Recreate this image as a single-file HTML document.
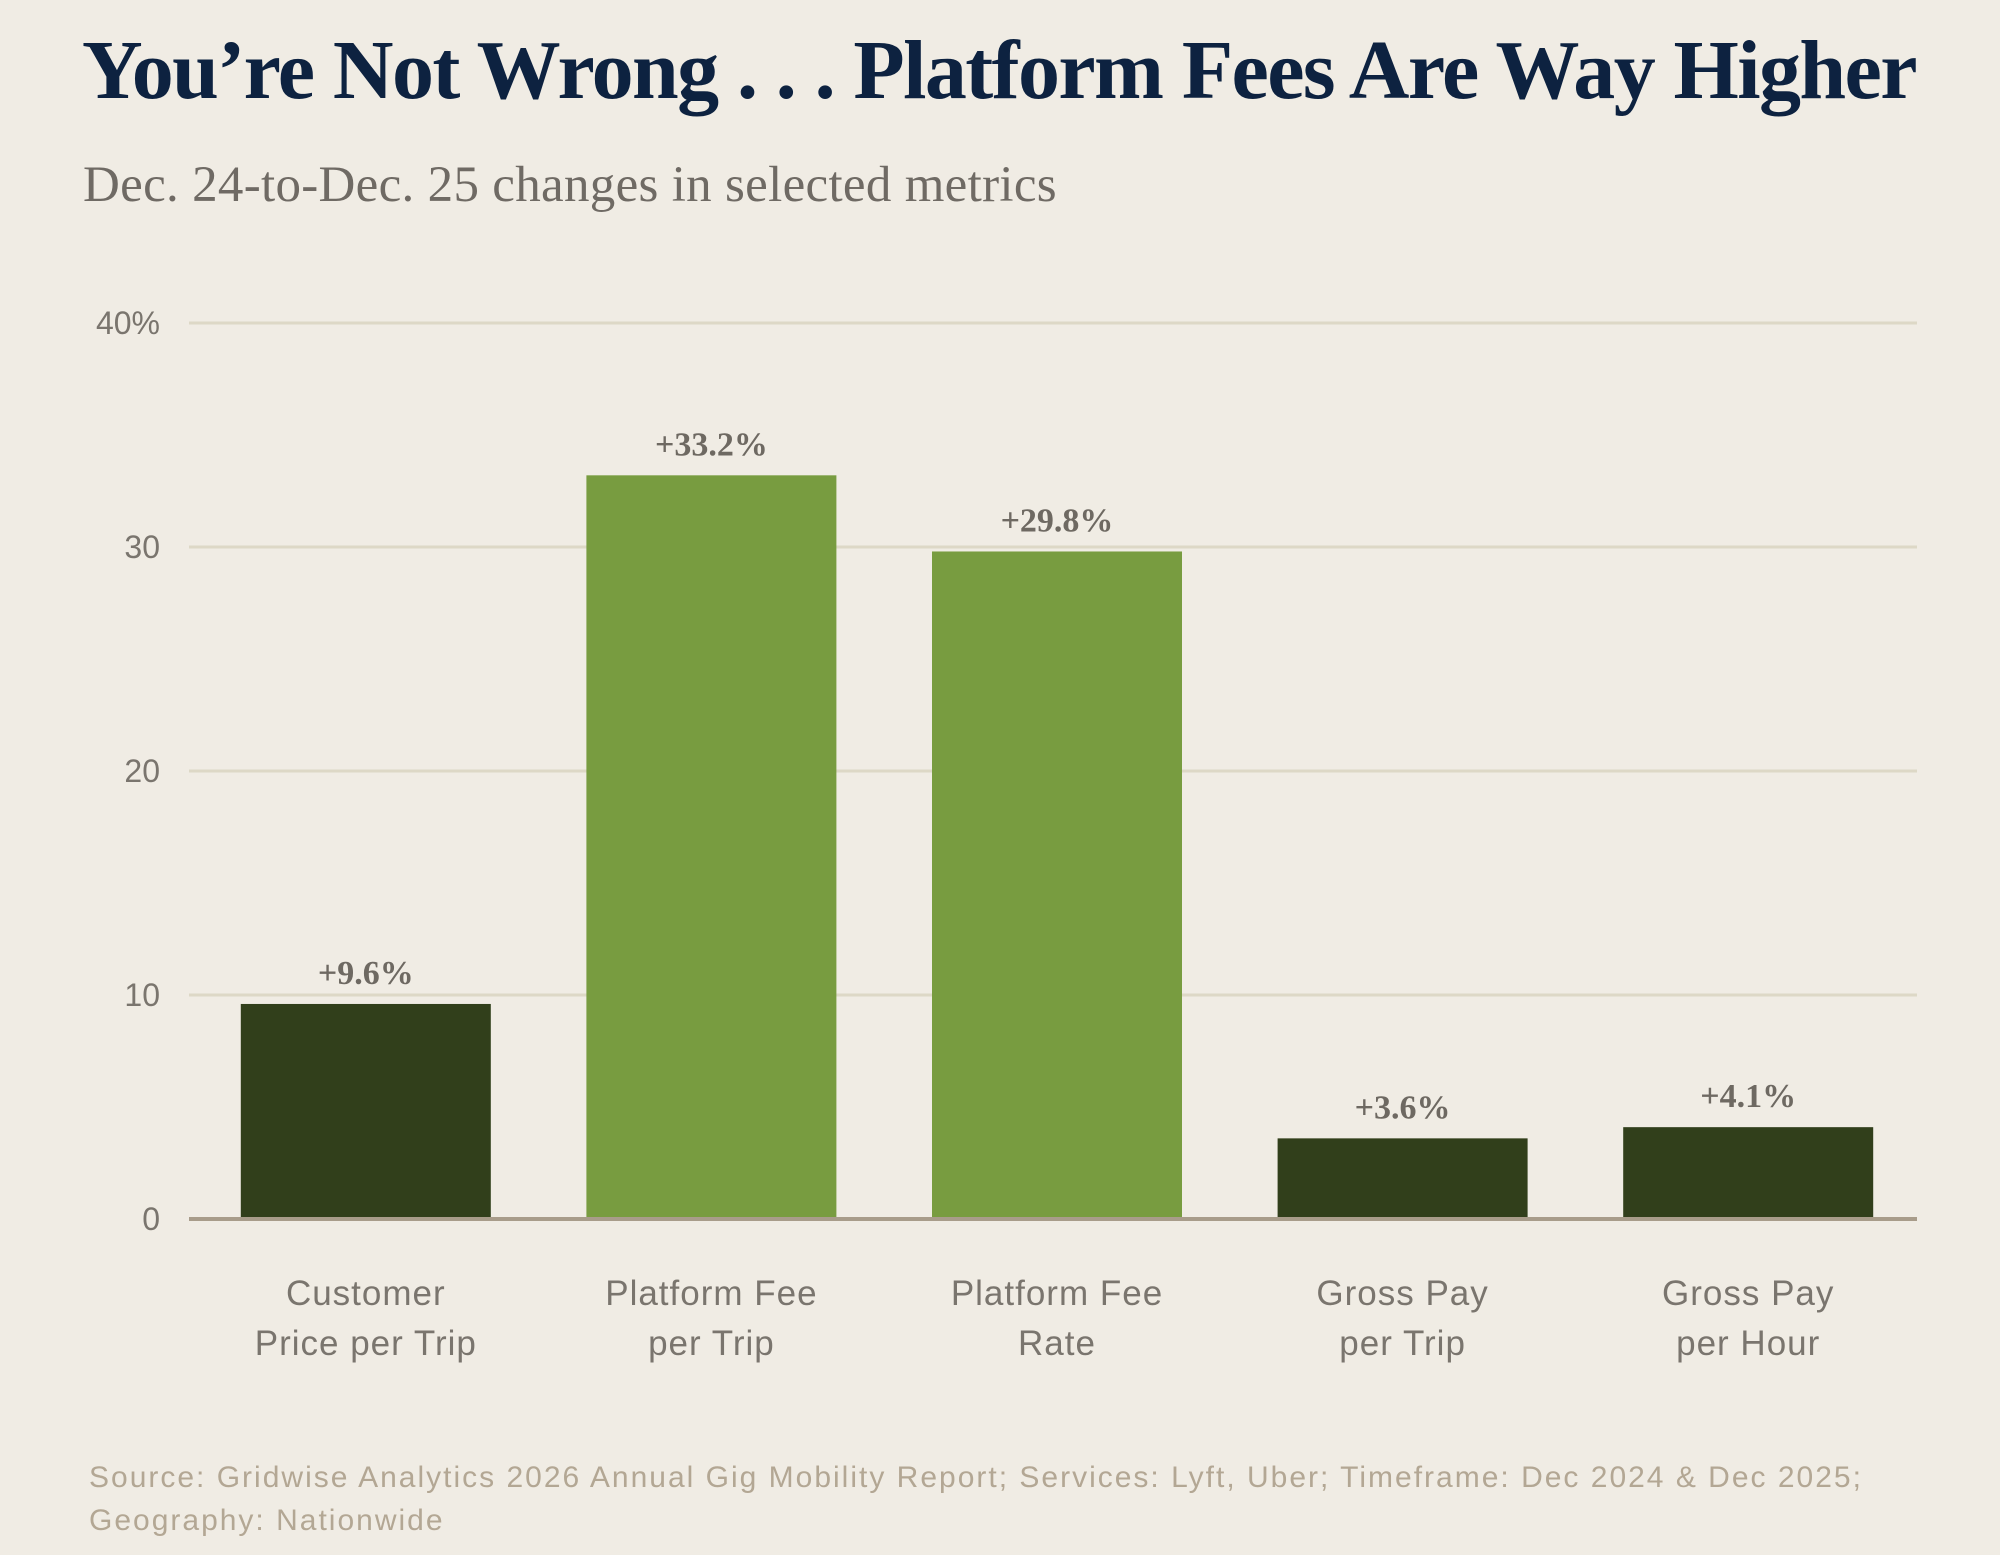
<!DOCTYPE html>
<html><head><meta charset="utf-8">
<style>
html,body{margin:0;padding:0;background:#f0ece4;}
body{width:2000px;height:1555px;position:relative;overflow:hidden;font-family:"Liberation Sans",sans-serif;}
#title{position:absolute;left:82px;top:22px;font-family:"Liberation Serif",serif;font-weight:bold;font-size:84px;color:#0d2240;letter-spacing:-1.6px;white-space:nowrap;}
#subtitle{position:absolute;left:83px;top:156px;font-family:"Liberation Serif",serif;font-size:51px;color:#6f6a64;letter-spacing:0.3px;white-space:nowrap;}
#source{position:absolute;left:89px;top:1456px;font-size:30px;line-height:43px;color:#b3a794;letter-spacing:2px;white-space:nowrap;}
svg{position:absolute;left:0;top:0;}
</style></head><body>
<div id="title">You’re Not Wrong . . . Platform Fees Are Way Higher</div>
<div id="subtitle">Dec. 24-to-Dec. 25 changes in selected metrics</div>
<svg id="chart" width="2000" height="1555"></svg>
<div id="source">Source: Gridwise Analytics 2026 Annual Gig Mobility Report; Services: Lyft, Uber; Timeframe: Dec 2024 &amp; Dec 2025;<br>Geography: Nationwide</div>
<script>
const categories=[["Customer","Price per Trip"],["Platform Fee","per Trip"],["Platform Fee","Rate"],["Gross Pay","per Trip"],["Gross Pay","per Hour"]];
const values=[9.6,33.2,29.8,3.6,4.1];
const valueLabels=["+9.6%","+33.2%","+29.8%","+3.6%","+4.1%"];
const highlight=[false,true,true,false,false];
const ticks=[0,10,20,30,40];
const tickLabels=["0","10","20","30","40%"];

const NS="http://www.w3.org/2000/svg";
const svg=document.getElementById('chart');
const x0=189,x1=1917,yTop=323,yBot=1219,yMax=40;
const y=v=>yBot-(v/yMax)*(yBot-yTop);
const band=(x1-x0)/categories.length, bw=250;
const xc=i=>x0+4+band*(i+0.5);
function mk(tag,attrs,txt){const e=document.createElementNS(NS,tag);for(const k in attrs)e.setAttribute(k,attrs[k]);if(txt!==undefined)e.textContent=txt;svg.appendChild(e);return e;}
ticks.forEach((t,i)=>{
  if(t>0){const g=mk('line',{x1:x0,x2:x1,y1:y(t),y2:y(t),stroke:'#ddd8c6','stroke-width':3});
  
  }
  const l=mk('text',{x:160,y:y(t)+11,'text-anchor':'end','font-size':32,fill:'#7a756e','font-family':'Liberation Sans, sans-serif'},tickLabels[i]);
  
  
});
values.forEach((v,i)=>{
  const r=mk('rect',{x:xc(i)-bw/2,y:y(v),width:bw,height:yBot-y(v),fill:highlight[i]?'#789c40':'#313f1b'});
  
  
  const t=mk('text',{x:xc(i),y:y(v)-20,'text-anchor':'middle','font-size':34,'font-weight':'bold',fill:'#6e6962','font-family':'Liberation Serif, serif'},valueLabels[i]);
  
  
  categories[i].forEach((ln,j)=>{
    const c=mk('text',{x:xc(i),y:1305+j*50,'text-anchor':'middle','font-size':35,'letter-spacing':1,fill:'#7a756e','font-family':'Liberation Sans, sans-serif'},ln);
    
    
  });
});
const ax=mk('line',{x1:x0,x2:x1,y1:yBot,y2:yBot,stroke:'#a89c8a','stroke-width':4});


</script>
</body></html>
